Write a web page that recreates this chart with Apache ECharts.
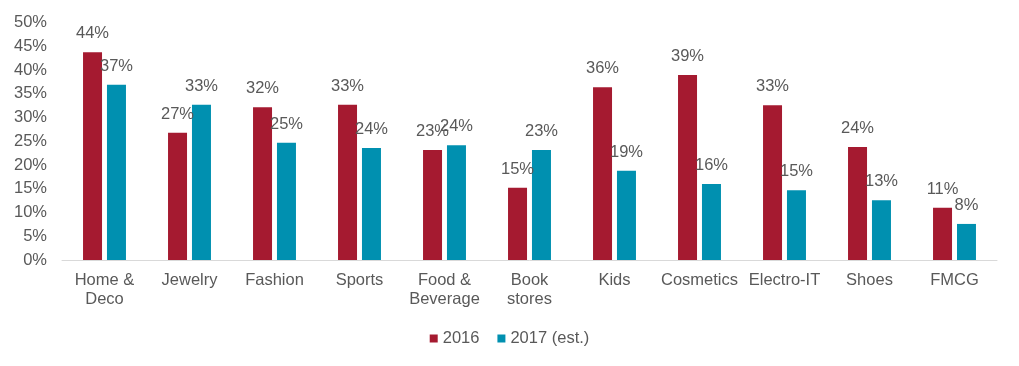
<!DOCTYPE html>
<html><head><meta charset="utf-8">
<script src="https://cdn.jsdelivr.net/npm/echarts@6/dist/echarts.min.js"></script>
<style>html,body{margin:0;padding:0;background:#fff}#c{width:1019px;height:366px}</style>
</head><body><div id="c"></div>
<script>
const categories = ["Home &\nDeco","Jewelry","Fashion","Sports","Food &\nBeverage","Book\nstores","Kids","Cosmetics","Electro-IT","Shoes","FMCG"];
const s2016 = [43.8,26.8,32.2,32.7,23.2,15.2,36.4,39.0,32.6,23.8,11.0];
const s2017 = [36.9,32.7,24.7,23.6,24.2,23.2,18.8,16.0,14.7,12.6,7.6];
const seriesNames = ["2016","2017 (est.)"];
const colors = ["#A51A30","#0090B0"];
const FONT = "Liberation Sans, Arial, sans-serif";
const FS = 16.5;
const txt = "#595959";
const chart = echarts.init(document.getElementById('c'));
const mk = (name, data, color) => ({
  name, type:'bar', data, barWidth:19, barGap:'26%',
  itemStyle:{color},
  label:{show:true, position:'top', distance:10, color:txt, fontFamily:FONT, fontSize:FS,
    formatter:p=>Math.round(p.value)+'%'}
});
chart.setOption({
  animation:false,
  textStyle:{fontFamily:FONT},
  grid:{left:62,right:22,top:22.7,bottom:106,containLabel:false},
  legend:{bottom:14,left:'center',itemWidth:8,itemHeight:8,itemGap:18,icon:'rect',
    textStyle:{color:txt,fontSize:FS,fontFamily:FONT},data:seriesNames},
  xAxis:{type:'category',data:categories,
    axisLine:{lineStyle:{color:'#D9D9D9'}},axisTick:{show:false},
    axisLabel:{color:txt,fontSize:FS,fontFamily:FONT,margin:11,lineHeight:19,interval:0}},
  yAxis:{type:'value',min:0,max:50,interval:5,
    axisLine:{show:false},axisTick:{show:false},splitLine:{show:false},
    axisLabel:{color:txt,fontSize:FS,fontFamily:FONT,margin:15,formatter:'{value}%'}},
  series:[mk(seriesNames[0],s2016,colors[0]),mk(seriesNames[1],s2017,colors[1])]
});
</script></body></html>
